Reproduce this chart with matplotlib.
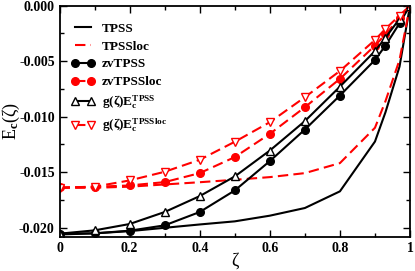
import numpy as np
import matplotlib
matplotlib.use('Agg')
import matplotlib.pyplot as plt
from matplotlib.ticker import MultipleLocator

plt.rcParams['font.family'] = ['Liberation Serif', 'DejaVu Serif']
plt.rcParams['font.weight'] = 'bold'
plt.rcParams['mathtext.fontset'] = 'custom'
plt.rcParams['mathtext.rm'] = 'Liberation Serif:bold'
plt.rcParams['mathtext.it'] = 'Liberation Serif:bold'
plt.rcParams['mathtext.bf'] = 'Liberation Serif:bold'

zeta = [0, 0.1, 0.2, 0.3, 0.4, 0.5, 0.6, 0.7, 0.8, 0.9, 0.93, 0.97, 1.0]

tpss = [-0.0206, -0.0205, -0.0203, -0.0200, -0.0197, -0.01942, -0.01891,
        -0.01822, -0.01672, -0.01224, -0.0096, -0.0055, 0.0]
tpssloc = [-0.0164, -0.0164, -0.0163, -0.0161, -0.0159, -0.01568, -0.01544,
           -0.01508, -0.01418, -0.0110, -0.0086, -0.0049, 0.0]
zvtpss = [-0.02053, -0.0205, -0.02026, -0.01978, -0.01858, -0.01664, -0.0140,
          -0.01116, -0.0081, -0.0049, -0.0036, -0.0016, 0.0]
zvtpssloc = [-0.01637, -0.01631, -0.01619, -0.01589, -0.01508, -0.01364, -0.01155,
             -0.00915, -0.0066, -0.0036, -0.0026, -0.0011, 0.0]
g_tpss = [-0.02053, -0.02023, -0.01966, -0.01858, -0.01715, -0.01538, -0.01305,
          -0.0104, -0.0073, -0.0041, -0.0029, -0.0012, 0.0]
g_tpssloc = [-0.0164, -0.0163, -0.01574, -0.01496, -0.01388, -0.01226, -0.0105,
             -0.00825, -0.00589, -0.0031, -0.0021, -0.0009, 0.0]

fig = plt.figure(figsize=(4.15, 2.71), dpi=100)
ax = fig.add_axes([0.1434, 0.1266, 0.8446, 0.8531])

dash = (0, (5, 2.5))
ax.plot(zeta, tpss, color='black', lw=1.5, label='TPSS')
ax.plot(zeta, tpssloc, color='red', lw=1.5, ls=dash, label='TPSSloc')
ax.plot(zeta, zvtpss, color='black', lw=1.5, marker='o', ms=5.5, label='zvTPSS')
ax.plot(zeta, zvtpssloc, color='red', lw=1.5, ls=dash, marker='o', ms=5.5,
        label='zvTPSSloc')
ax.plot(zeta, g_tpss, color='black', lw=1.5, marker='^', ms=5.5, mfc='white',
        mec='black', label='g(ζ)E$_\\mathrm{c}^\\mathrm{TPSS}$')
ax.plot(zeta, g_tpssloc, color='red', lw=1.5, ls=dash, marker='v', ms=5.5,
        mfc='white', mec='red', label='g(ζ)E$_\\mathrm{c}^\\mathrm{TPSSloc}$')

ax.set_xlim(0, 1)
ax.set_ylim(-0.0208, 0.0)
ax.xaxis.set_minor_locator(MultipleLocator(0.1))
ax.yaxis.set_minor_locator(MultipleLocator(0.0025))
ax.set_xticks([0, 0.2, 0.4, 0.6, 0.8, 1.0])
ax.set_xticklabels(['0', '0.2', '0.4', '0.6', '0.8', '1'])
ax.set_yticks([-0.020, -0.015, -0.010, -0.005, 0.0])
ax.set_yticklabels(['-0.020', '-0.015', '-0.010', '-0.005', '0.000'])
ax.tick_params(which='both', direction='in', top=True, right=True,
               labelsize=10, width=1)
ax.tick_params(which='major', length=5)
ax.tick_params(which='minor', length=3)
for s in ax.spines.values():
    s.set_linewidth(1.3)

ax.set_xlabel('ζ', fontsize=13)
ax.xaxis.set_label_coords(0.5, -0.07, transform=ax.transAxes)
ax.xaxis.label.set_va('top')
ax.set_ylabel('E$_\\mathrm{c}$(ζ)', fontsize=13)
ax.yaxis.set_label_coords(-0.107, 0.5, transform=ax.transAxes)

ax.legend(loc='upper left', bbox_to_anchor=(0.011, 0.96), frameon=False,
          numpoints=2, handlelength=1.8, handletextpad=0.5, labelspacing=0.42,
          borderaxespad=0.2, prop={'weight': 'bold', 'size': 9.5})

fig.savefig('out.png', dpi=100)
